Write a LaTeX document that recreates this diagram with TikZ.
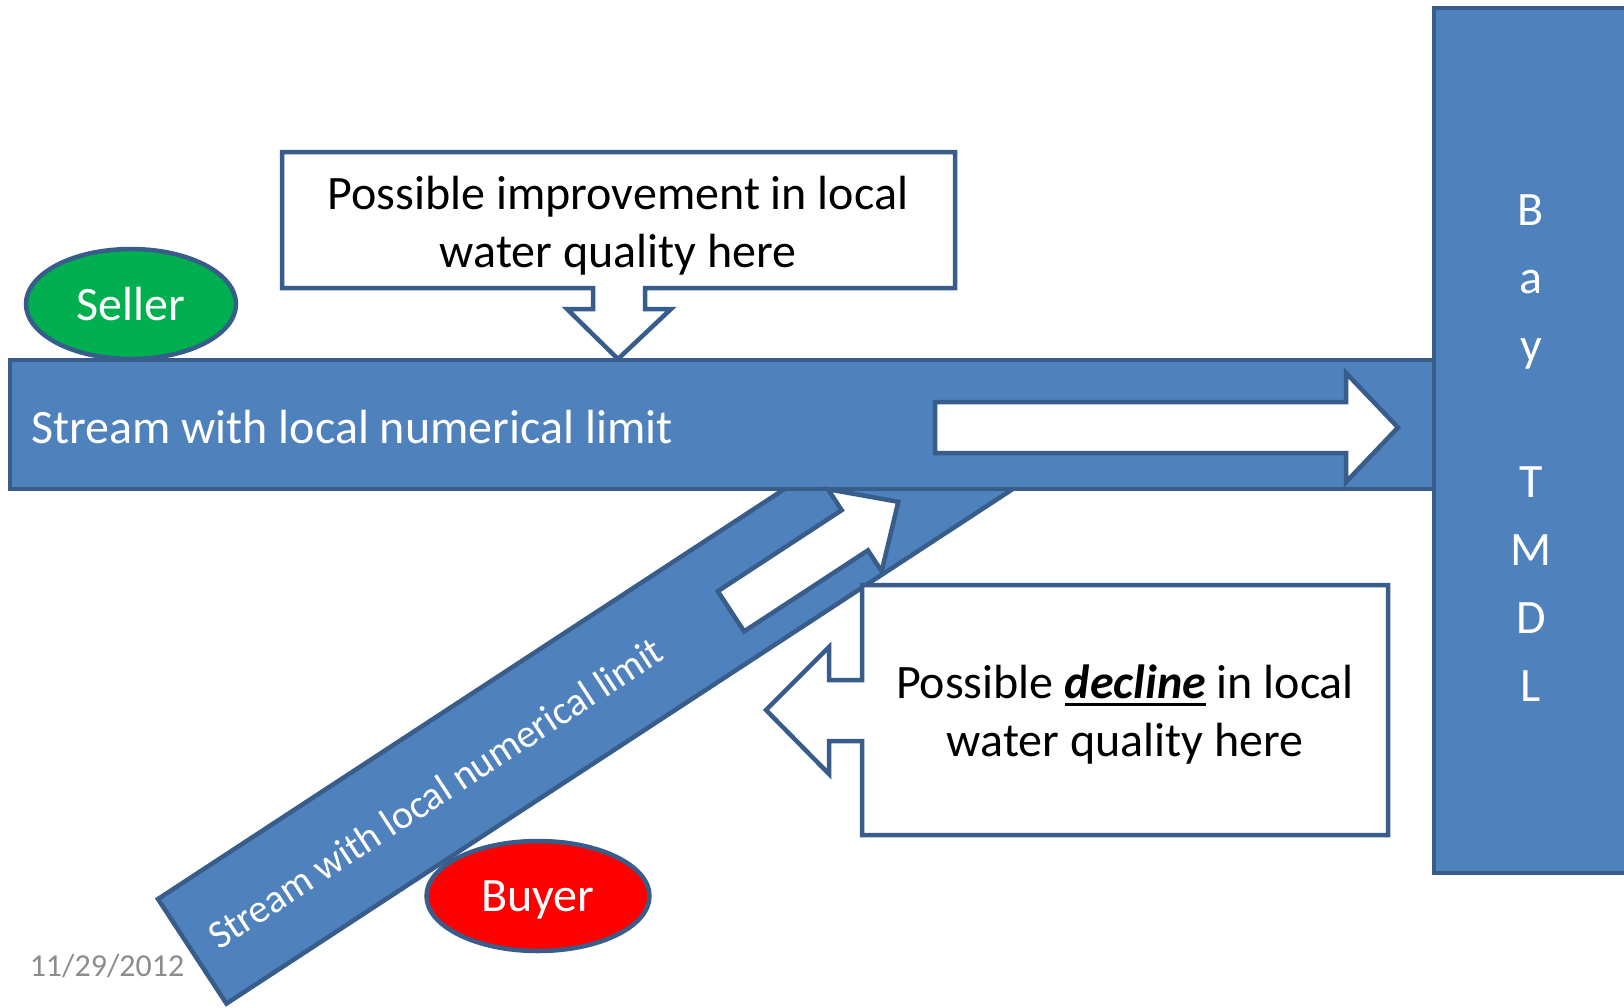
\documentclass[tikz,border=0pt]{standalone}
\usepackage{fontspec}
\setmainfont{Carlito}
\usetikzlibrary{shapes.geometric}
\definecolor{azulrio}{HTML}{4F81BD}
\definecolor{bordeazul}{HTML}{385D8A}
\definecolor{verdevende}{HTML}{00B050}
\definecolor{grisfecha}{HTML}{8C8C8C}
\newcommand{\subraya}[1]{\setbox0=\hbox{#1}\rlap{\rule[-7pt]{\wd0}{3pt}}\box0\relax}

\begin{document}
\begin{tikzpicture}[x=1pt, y=-1pt,
	rio/.style={fill=azulrio, draw=bordeazul, line width=4.5pt},
	cuadro/.style={fill=white, draw=bordeazul, line width=4.5pt},
	agente/.style={ellipse, draw=bordeazul, line width=4.5pt, minimum width=210pt, minimum height=110pt, inner sep=0pt, text=white, text depth=0pt, font=\fontsize{48}{58}\selectfont},
	texto/.style={font=\fontsize{48}{58}\selectfont, align=center}]
	\useasboundingbox (0,0) rectangle (1624,1007);
	% Corriente diagonal
		\begin{scope}[shift={(158,899)}, rotate=33.2]
			\draw[rio] (0,0) rectangle (960,125);
			\node[transform shape, text=white, font=\fontsize{40}{48}\selectfont] (rio2) at (290,63) {Stream with local numerical limit};
		\end{scope}
	% Corriente principal
		\draw[rio] (10,360) rectangle (1434,489);
		\node[anchor=base west, inner sep=0pt, text=white, font=\fontsize{48}{58}\selectfont] (rio1) at (31,443) {Stream with local numerical limit};
		% Flecha de flujo
			\draw[cuadro] (935,402) -- (1346,402) -- (1346,373) -- (1398,427.5) -- (1346,482) -- (1346,453) -- (935,453) -- cycle;
		% Flecha diagonal
			\begin{scope}[shift={(158,899)}, rotate=33.2]
				\draw[cuadro] (637,49) -- (785,49) -- (785,24) -- (837,73) -- (785,122) -- (785,97) -- (637,97) -- cycle;
			\end{scope}
	% Bahia
		\draw[rio] (1434,8) rectangle (1650,873);
		\node[text=white, font=\fontsize{48}{68}\selectfont, align=center] (bahia) at (1531,448) {B\\a\\y\\\mbox{}\\T\\M\\D\\L};
	% Cuadros de texto
		\draw[cuadro] (282,152) -- (955,152) -- (955,288) -- (645,288) -- (645,309) -- (671,309) -- (618,359) -- (567,309) -- (593,309) -- (593,288) -- (282,288) -- cycle;
		\node[texto] (mejora) at (618,226) {Possible improvement in local\\water quality here};
		\draw[cuadro] (862,585) -- (1388,585) -- (1388,835) -- (862,835) -- (862,741) -- (829,741) -- (829,774) -- (766,710) -- (829,647) -- (829,680) -- (862,680) -- cycle;
		\node[texto] (deterioro) at (1125,715) {Possible \subraya{\textbf{\textit{decline}}} in local\\water quality here};
	% Agentes
		\node[agente, fill=verdevende] (vendedor) at (131,304) {Seller};
		\node[agente, fill=red, minimum width=223pt] (comprador) at (538,896) {Buyer};
	% Fecha
		\node[text=grisfecha, font=\fontsize{32}{38}\selectfont] (fecha) at (107,966) {11/29/2012};
\end{tikzpicture}
\end{document}
